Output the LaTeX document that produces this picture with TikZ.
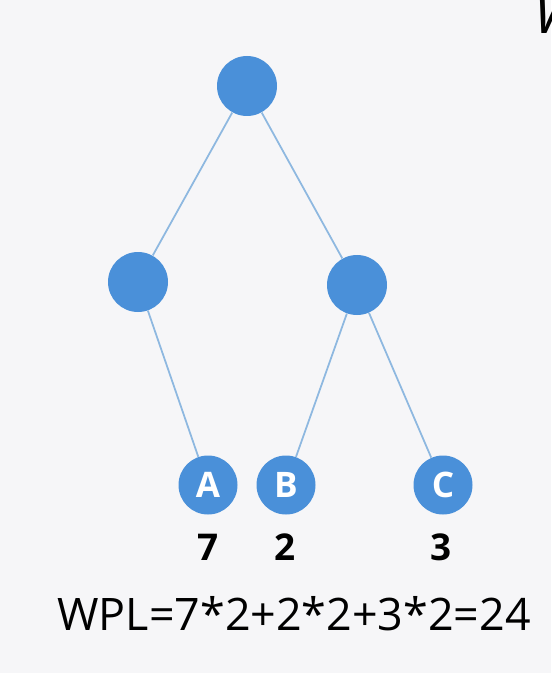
\documentclass[tikz,border=0pt]{standalone}
\usepackage{fontspec}
\setmainfont{Open Sans}
\definecolor{nodoazul}{RGB}{74,144,217}
\definecolor{arista}{RGB}{142,184,224}
\definecolor{fondo}{RGB}{246,246,248}
\tikzstyle{nd}=[circle,fill=nodoazul,minimum size=1.2cm,inner sep=0pt]
\tikzstyle{hoja}=[circle,fill=nodoazul,minimum size=1.18cm,inner sep=0pt,text=white,font=\fontsize{20}{20}\selectfont\bfseries]
\tikzstyle{peso}=[font=\fontsize{21}{21}\selectfont\bfseries]
\tikzstyle{ar}=[draw=arista,line width=1pt]
\begin{document}
\begin{tikzpicture}
\fill[fondo] (0,0) rectangle (11.02,-13.46);
\useasboundingbox (0,0) rectangle (11.02,-13.46);
\node[nd] (r)  at (4.94,-1.72) {};
\node[nd] (i)  at (2.76,-5.64) {};
\node[nd] (d)  at (7.14,-5.70) {};
\node[hoja] (a)  at (4.16,-9.70) {A};
\node[hoja] (b)  at (5.72,-9.70) {B};
\node[hoja] (c)  at (8.86,-9.70) {C};
\draw[ar] (r) -- (i);
\draw[ar] (r) -- (d);
\draw[ar] (i) -- (a);
\draw[ar] (d) -- (b);
\draw[ar] (d) -- (c);
\node[peso] (pa) at (4.16,-10.94) {7};
\node[peso] (pb) at (5.70,-10.94) {2};
\node[peso] (pc) at (8.82,-10.94) {3};
\node[font=\fontsize{25.5}{25.5}\selectfont] (wpl) at (5.88,-12.28) {WPL=7*2+2*2+3*2=24};
%\node (w) at ... trozo de letra arriba a la derecha
\node[anchor=west,font=\fontsize{34}{34}\selectfont\itshape] (w) at (10.55,-0.25) {W};
\end{tikzpicture}
\end{document}
